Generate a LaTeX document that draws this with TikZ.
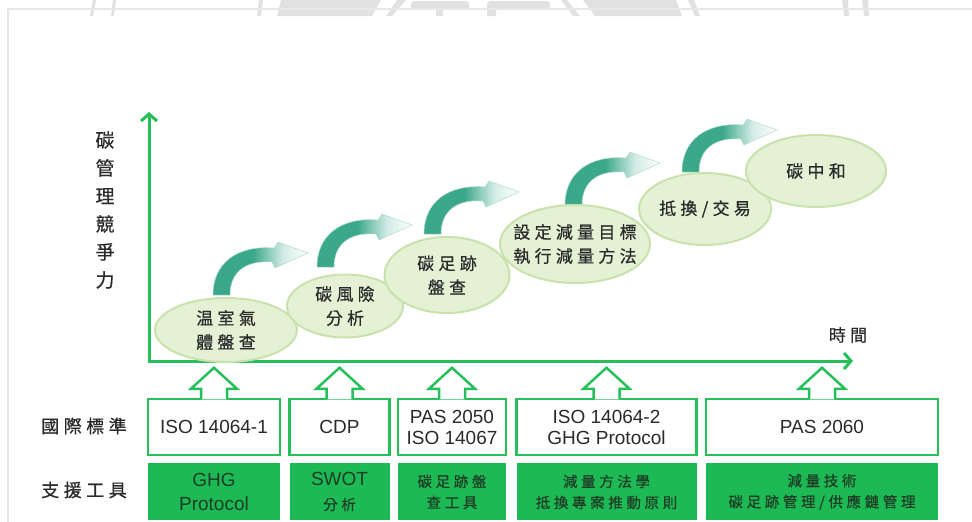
\documentclass[tikz,border=0pt]{standalone}
\usepackage{fontspec}
\setmainfont{Liberation Sans}
\newfontfamily\cjk[FakeBold=0.6]{Noto Sans CJK TC}
\newfontfamily\cjkwide[LetterSpace=25, FakeBold=0.6]{Noto Sans CJK TC}
\usetikzlibrary{arrows.meta, positioning, shapes.geometric, calc}
\definecolor{axisgreen}{HTML}{25C05A}
\definecolor{toolgreen}{HTML}{1CB955}
\definecolor{ellfill}{HTML}{E4F1D5}
\definecolor{elledge}{HTML}{C9E2AD}
\definecolor{arrowteal}{HTML}{3AA889}
\definecolor{textgray}{HTML}{2A2A2A}
\definecolor{tooltext}{HTML}{1E3D24}
\definecolor{framegray}{HTML}{E8E8E8}
\definecolor{markgray}{HTML}{E0E1E0}
\colorlet{tealpale}{arrowteal!22!white}
\pgfdeclarehorizontalshading{tealfade}{100bp}{color(0bp)=(arrowteal); color(25bp)=(arrowteal); color(46bp)=(arrowteal); color(62bp)=(tealpale); color(75bp)=(white); color(100bp)=(white)}

\begin{document}
\begin{tikzpicture}[
  x=1pt, y=-1pt,
  axis/.style={line width=3pt, draw=axisgreen,
               {Straight Barb[length=7pt,width=16pt]}-{Straight Barb[length=7pt,width=16pt]}},
  stage/.style={ellipse, draw=elledge, line width=2pt, fill=ellfill, inner sep=0pt},
  stagetext/.style={align=center, text=textgray, font=\cjkwide\fontsize{17pt}{24pt}\selectfont},
  stdbox/.style={rectangle, draw=axisgreen, line width=2.5pt, fill=white,
                 minimum height=56pt, inner sep=2pt, align=center, text=textgray,
                 font=\fontsize{19pt}{21pt}\selectfont},
  toolbox/.style={rectangle, fill=toolgreen, minimum height=57pt, inner sep=2pt,
                  align=center, text=tooltext, font=\fontsize{19pt}{21pt}\selectfont},
  cjktool/.style={toolbox, font=\cjkwide\fontsize{14.5pt}{21pt}\selectfont},
  rowlabel/.style={text=textgray, font=\cjkwide\fontsize{18pt}{20pt}\selectfont},
  hollow/.style={draw=axisgreen, line width=2.5pt, fill=white, line join=miter}
]
  \useasboundingbox (0,0) rectangle (972,522);

  \fill[markgray] (93,0) -- (96,0) -- (93,16) -- (90,16) -- cycle
    (113,0) -- (116,0) -- (114,16) -- (111,16) -- cycle
    (259,0) -- (263,0) -- (261,16) -- (257,16) -- cycle
    (281,0) -- (381,0) -- (372,16) -- (277,16) -- cycle
    (397,0) -- (406,0) -- (392,16) -- (386,16) -- cycle
    (411,9) -- (411,3) -- (414,1) -- (466,1) -- (469,3) -- (469,9) -- cycle
    (436,9) -- (443,9) -- (443,16) -- (436,16) -- cycle
    (487,16) -- (487,3) -- (490,1) -- (547,1) -- (550,3) -- (550,9) -- (496,9) -- (496,16) -- cycle
    (561,0) -- (567,0) -- (580,16) -- (573,16) -- cycle
    (583,0) -- (676,0) -- (682,16) -- (595,16) -- cycle
    (688,0) -- (694,0) -- (700,16) -- (695,16) -- cycle
    (842,0) -- (848,0) -- (849,16) -- (844,16) -- cycle
    (862,0) -- (868,0) -- (869,16) -- (864,16) -- cycle;
  \draw[framegray, line width=2.5pt] (8,523) -- (8,9) -- (973,9);

  \coordinate (origin) at (149,361);
  \coordinate (ytop) at (149,112);
  \coordinate (xend) at (853,361);
  \draw[axis] (ytop) -- (origin) -- (xend);

  \node[text=textgray, font=\cjk\fontsize{19pt}{28pt}\selectfont, align=center] (ylab) at (105,210)
    {碳\\管\\理\\競\\爭\\力};
  \node[text=textgray, font=\cjkwide\fontsize{17pt}{20pt}\selectfont] (tlab) at (848,335) {時間};

  \foreach \bx/\by in {222/293, 326/265, 433/232, 574/203, 691/170}{
    \begin{scope}[shift={(\bx,\by)}]
      \shadedraw[shading=tealfade, draw=arrowteal!40, line width=0.5pt]
        (-9,2) .. controls (-9,-30) and (15,-48) .. (52,-45) -- (56,-51) -- (86,-40)
        -- (53,-25) -- (50,-31) .. controls (25,-33) and (8,-22) .. (8,2) -- cycle;
    \end{scope}
  }

  \node[stage, minimum width=142pt, minimum height=64pt, label={[stagetext]center:{温室氣\\體盤查}}] (ghg) at (226,330) {};
  \node[stage, minimum width=116pt, minimum height=63pt, label={[stagetext]center:{碳風險\\分析}}] (risk) at (345,306) {};
  \node[stage, minimum width=125pt, minimum height=76pt, label={[stagetext]center:{碳足跡\\盤查}}] (foot) at (447,275) {};
  \node[stage, minimum width=150pt, minimum height=78pt, label={[stagetext]center:{設定減量目標\\執行減量方法}}] (target) at (575,244) {};
  \node[stage, minimum width=132pt, minimum height=72pt, label={[stagetext]center:{抵換/交易}}] (offset) at (705,209) {};
  \node[stage, minimum width=140pt, minimum height=72pt, label={[stagetext]center:{碳中和}}] (neutral) at (816,171) {};

  \node[stdbox, minimum width=132pt] (iso1) at (214,427) {ISO 14064-1};
  \node[stdbox, minimum width=100pt, right=7pt of iso1] (cdp) {CDP};
  \node[stdbox, minimum width=108pt, right=6pt of cdp] (pas) {PAS 2050\\ISO 14067};
  \node[stdbox, minimum width=180pt, right=8pt of pas] (iso2) {ISO 14064-2\\GHG Protocol};
  \node[stdbox, minimum width=232pt, right=7pt of iso2] (pas60) {PAS 2060};

  \node[toolbox, minimum width=132pt, below=7pt of iso1] (ghgp) {GHG\\[3pt]Protocol};
  \node[toolbox, minimum width=100pt, below=7pt of cdp] (swot) {SWOT\\[3pt]{\cjkwide\fontsize{14.5pt}{21pt}\selectfont 分析}};
  \node[cjktool, minimum width=108pt, below=7pt of pas] (fptool) {碳足跡盤\\查工具};
  \node[cjktool, minimum width=180pt, below=7pt of iso2] (method) {減量方法學\\抵換專案推動原則};
  \node[cjktool, minimum width=232pt, below=7pt of pas60] (tech) {減量技術\\碳足跡管理/供應鏈管理};

  \foreach \b in {iso1,cdp,pas,iso2,pas60}
    \path[hollow] ($(\b.north)+(-13,1.5)$) -- ++(0,-10.5) -- ++(-10,0) -- ($(\b.north)+(0,-30)$)
      -- ($(\b.north)+(23,-9)$) -- ++(-10,0) -- ++(0,10.5);

  \node[rowlabel] (stdlab) at (84,426) {國際標準};
  \node[rowlabel] (toollab) at (84,490) {支援工具};
\end{tikzpicture}
\end{document}
